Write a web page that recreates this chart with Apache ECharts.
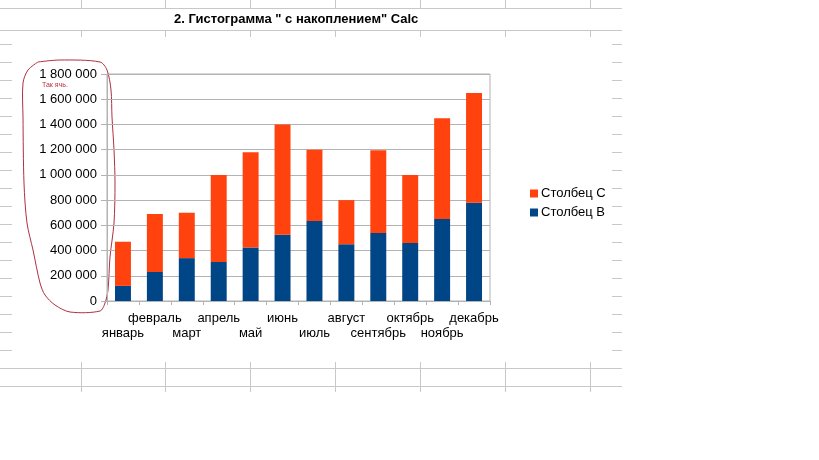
<!DOCTYPE html>
<html>
<head>
<meta charset="utf-8">
<script src="https://cdn.jsdelivr.net/npm/echarts@6/dist/echarts.min.js"></script>
<style>html,body{margin:0;padding:0;background:#fff}#c{width:819px;height:460px}</style>
</head>
<body>
<div id="c"></div>
<script>
const categories = ['январь','февраль','март','апрель','май','июнь','июль','август','сентябрь','октябрь','ноябрь','декабрь'];
const seriesB = [120000, 230000, 340000, 310000, 425000, 525000, 635000, 450000, 540000, 460000, 650000, 780000];
const seriesC = [350000, 460000, 360000, 690000, 755000, 875000, 565000, 350000, 655000, 540000, 800000, 870000];
const yTicks = [0, 200000, 400000, 600000, 800000, 1000000, 1200000, 1400000, 1600000, 1800000];
const titleText = '2. Гистограмма " с накоплением" Calc';

const FONT = '"Liberation Sans", Arial, sans-serif';
const gridColor = '#c8c8c8';
const g = [];
function hl(x1, x2, y) { g.push({type:'line', shape:{x1:x1, y1:y, x2:x2, y2:y}, style:{stroke:gridColor, lineWidth:1}, silent:true}); }
function vl(x, y1, y2) { g.push({type:'line', shape:{x1:x, y1:y1, x2:x, y2:y2}, style:{stroke:gridColor, lineWidth:1}, silent:true}); }
// spreadsheet decoration
hl(0, 622, 8.5); hl(0, 622, 30.5);
[81,165,250,335,420,505,590].forEach(x => { vl(x+0.5, 0, 8); vl(x+0.5, 31, 37); });
for (let y = 44; y <= 350; y += 18) { hl(0, 12, y + 0.5); hl(612, 622, y + 0.5); }
hl(0, 622, 368.5); hl(0, 622, 386.5);
[81,165,250,335,420,505,590].forEach(x => { vl(x+0.5, 362, 392); });
// title
g.push({type:'text', left: 174, top: 13, style:{text: titleText, font: 'bold 13px ' + FONT, fill:'#000'}});
// hand-drawn red loop annotation
g.push({type:'polyline', shape:{points:[[38,62],[60,60],[100,62],[107,70],[111,90],[112,117],[114,150],[115,183],[114,223],[110,257],[108,290],[105,303],[100,311],[70,312],[55,305],[45,295],[40,283],[33,250],[27,223],[24,183],[23,117],[23,83],[28,70],[38,62]], smooth:0.3}, style:{stroke:'#b0303f', lineWidth:1, fill:null}, silent:true});
g.push({type:'text', left: 42, top: 82, style:{text:'Так ячь.', font:'7px ' + FONT, fill:'#c03040'}});

const chart = echarts.init(document.getElementById('c'));
chart.setOption({
  animation: false,
  backgroundColor: '#fff',
  graphic: g,
  grid: { left: 107, right: 329, top: 74, bottom: 159, show: true, borderColor: '#b3b3b3', borderWidth: 1, backgroundColor: 'transparent' },
  legend: {
    data: ['Столбец C', 'Столбец B'], orient: 'vertical', left: 525, top: 182,
    itemWidth: 8, itemHeight: 8, itemGap: 6, icon: 'rect',
    textStyle: { fontSize: 13, fontFamily: FONT, color: '#000', padding: [0,0,0,-2] }
  },
  xAxis: {
    type: 'category', data: categories,
    axisLine: { lineStyle: { color: '#b3b3b3' } },
    axisTick: { show: true, length: 4, lineStyle: { color: '#b3b3b3' } },
    axisLabel: {
      interval: 0, margin: 10, color: '#000', fontSize: 13, fontFamily: FONT, lineHeight: 15,
      formatter: (v, i) => (i % 2 === 0 ? '\n' + v : v)
    }
  },
  yAxis: {
    type: 'value', min: yTicks[0], max: yTicks[yTicks.length - 1], interval: yTicks[1] - yTicks[0],
    axisLine: { show: true, lineStyle: { color: '#b3b3b3' } },
    axisTick: { show: true, length: 6, lineStyle: { color: '#b3b3b3' } },
    splitLine: { lineStyle: { color: '#b3b3b3' } },
    axisLabel: {
      margin: 10, color: '#000', fontSize: 13, fontFamily: FONT,
      formatter: v => String(v).replace(/\B(?=(\d{3})+(?!\d))/g, ' ')
    }
  },
  series: [
    { name: 'Столбец B', type: 'bar', stack: 's', data: seriesB, barWidth: '50%', itemStyle: { color: '#004586' } },
    { name: 'Столбец C', type: 'bar', stack: 's', data: seriesC, barWidth: '50%', itemStyle: { color: '#ff420e' } }
  ]
});
</script>
</body>
</html>
